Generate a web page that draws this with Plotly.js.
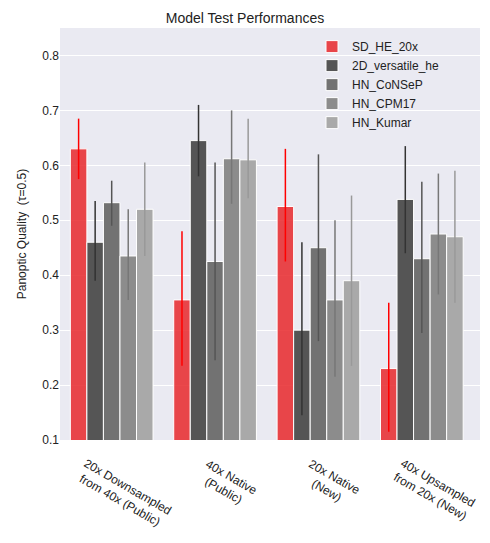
<!DOCTYPE html>
<html><head><script src="https://cdn.plot.ly/plotly-3.0.1.min.js"></script></head>
<body style="margin:0"><div id="chart" style="width:490px;height:543px"></div>
<script>
let categories = ["20x Downsampled<br>from 40x (Public)", "40x Native<br>(Public)", "20x Native<br>(New)", "40x Upsampled<br>from 20x (New)"]
let models = ["SD_HE_20x", "2D_versatile_he", "HN_CoNSeP", "HN_CPM17", "HN_Kumar"]
let barColors = ["rgba(232,40,44,0.85)", "#555555", "#727272", "#8c8c8c", "#a9a9a9"]
let errColors = ["#ff0000", "#333333", "#555555", "#777777", "#999999"]
let values = [
  [0.63, 0.355, 0.525, 0.23],
  [0.46, 0.645, 0.30, 0.538],
  [0.532, 0.425, 0.45, 0.43],
  [0.435, 0.612, 0.355, 0.475],
  [0.52, 0.61, 0.39, 0.47]
]
let lows = [
  [0.575, 0.235, 0.425, 0.115],
  [0.39, 0.58, 0.145, 0.44],
  [0.49, 0.245, 0.28, 0.295],
  [0.355, 0.53, 0.215, 0.365],
  [0.435, 0.54, 0.235, 0.35]
]
let highs = [
  [0.685, 0.48, 0.63, 0.35],
  [0.535, 0.71, 0.46, 0.635],
  [0.572, 0.605, 0.62, 0.57],
  [0.52, 0.70, 0.50, 0.585],
  [0.605, 0.685, 0.545, 0.59]
]
let traces = models.map((m, i) => ({
  type: 'bar', name: m, x: categories, y: values[i], base: 0,
  marker: {color: barColors[i], line: {color: 'white', width: 1}},
  error_y: {type: 'data', symmetric: false,
    array: highs[i].map((h, j) => h - values[i][j]),
    arrayminus: values[i].map((v, j) => v - lows[i][j]),
    color: errColors[i], thickness: 1.5, width: 0}
}))
// rotated category labels centred under each group, as annotations
let labels = categories.map(c => ({
  x: c, xref: 'x', y: 0, yref: 'paper', yanchor: 'top', xanchor: 'center',
  text: c, showarrow: false, textangle: 30, yshift: -14, xshift: 12, font: {size: 12, color: '#222'}
}))
let layout = {
  title: {text: 'Model Test Performances', font: {size: 14, color: '#222'}, y: 0.975},
  paper_bgcolor: 'white', plot_bgcolor: '#eaeaf2',
  font: {family: 'Arial, Liberation Sans', size: 12, color: '#222'},
  margin: {l: 60, r: 10, t: 28, b: 103},
  barmode: 'group', bargap: 0.2, bargroupgap: 0,
  xaxis: {showticklabels: false, showgrid: false, ticks: ''},
  yaxis: {title: {text: 'Panoptic Quality  (τ=0.5)', font: {size: 12}}, range: [0.1, 0.85],
    tickvals: [0.1, 0.2, 0.3, 0.4, 0.5, 0.6, 0.7, 0.8], tickformat: '.1f',
    gridcolor: 'white', zeroline: false},
  annotations: labels,
  legend: {x: 0.6, xanchor: 'left', y: 0.99, yanchor: 'top', bgcolor: 'rgba(0,0,0,0)', font: {size: 12}}
}
Plotly.newPlot('chart', traces, layout, {displayModeBar: false})
</script></body></html>
